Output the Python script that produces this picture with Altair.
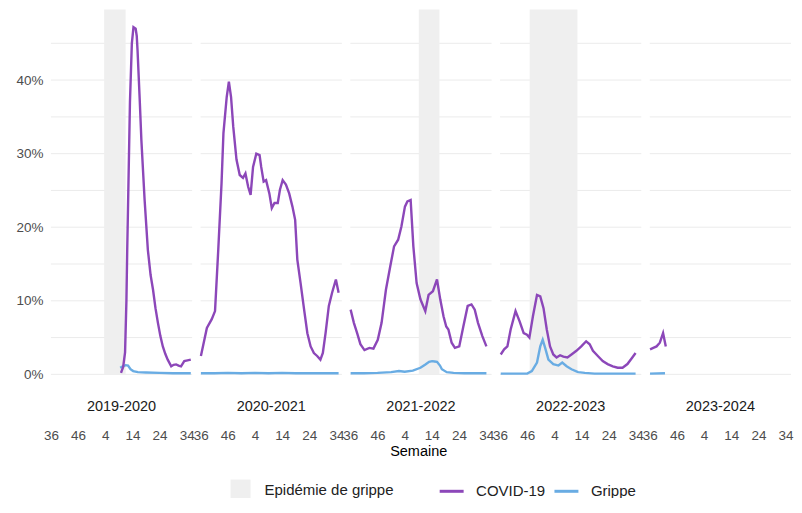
import altair as alt
import pandas as pd

seasons = ["2019-2020", "2020-2021", "2021-2022", "2022-2023", "2023-2024"]

# week index inside a season: 0 = week 36, 16 = week 52, 17 = week 1, 50 = week 34
tick_idx = [0, 10, 20, 30, 40, 50]
grid_vals = [0, 0.05, 0.1, 0.15, 0.2, 0.25, 0.3, 0.35, 0.4, 0.45]
y_label_vals = [0, 0.1, 0.2, 0.3, 0.4]

covid_idx = {
    "2019-2020": [25.8, 26.6, 27.3, 27.8, 28.1, 28.6, 29.1, 29.8, 30.4, 31.2, 31.6, 31.9, 32.7, 33.3, 34.5, 35.7, 36.7,
                  37.6, 38.5, 39.4, 40.3, 41.2, 42.1, 43.0, 44.3, 45.2, 46.1, 47.0, 47.9, 49.1, 50.3, 51.5],
    "2020-2021": [0.1, 2.3, 4.1, 5.3, 6.5, 7.7, 8.4, 9.6, 10.4, 11.2, 12.0, 13.2, 14.4, 15.6, 16.5, 17.5, 18.4, 19.3,
                  20.5, 21.7, 22.3, 23.2, 24.1, 25.3, 26.2, 27.2, 28.4, 29.2, 30.2, 31.4, 32.6, 33.8, 34.8, 35.6, 36.8,
                  38.1, 39.3, 40.5, 41.7, 42.9, 44.1, 45.0, 46.0, 47.2, 48.4, 49.8, 50.8],
    "2021-2022": [0.1, 1.3, 2.5, 3.7, 5.2, 7.0, 8.5, 10.1, 11.5, 13.1, 14.7, 16.1, 17.6, 18.8, 20.1, 21.0, 22.2, 23.2,
                  24.4, 25.8, 27.6, 28.8, 30.4, 31.9, 33.1, 34.3, 35.3, 36.1, 37.3, 38.5, 40.1, 41.6, 43.2, 44.6, 45.8,
                  47.0, 48.6, 50.1],
    "2022-2023": [0.25, 1.5, 2.7, 3.9, 5.7, 7.2, 8.7, 9.9, 10.8, 12.1, 13.6, 14.8, 16.0, 17.2, 18.4, 19.6, 20.8, 22.1,
                  23.3, 24.8, 26.3, 28.1, 29.9, 31.7, 33.0, 34.2, 36.0, 37.8, 39.6, 41.5, 43.3, 45.1, 46.9, 48.7, 49.9],
    "2023-2024": [0.1, 1.3, 2.5, 3.7, 4.9, 5.9],
}
covid_pct = {
    "2019-2020": [0.2, 1.0, 3.0, 10.0, 17.0, 27.0, 37.0, 45.0, 47.2, 47.0, 46.0, 44.0, 37.3, 31.9, 23.7, 16.9, 13.5,
                  11.5, 9.0, 7.0, 5.2, 3.8, 2.8, 2.0, 1.1, 1.3, 1.35, 1.2, 1.1, 1.8, 1.9, 2.0],
    "2020-2021": [2.5, 6.3, 7.5, 8.6, 17.0, 26.0, 32.8, 37.7, 39.8, 37.7, 33.7, 29.2, 27.1, 26.7, 27.3, 25.5, 24.4, 28.2,
                  30.0, 29.8, 28.2, 26.2, 26.4, 24.6, 22.6, 23.3, 23.3, 25.1, 26.4, 25.8, 24.6, 22.8, 21.0, 15.6, 12.4,
                  8.8, 5.6, 3.8, 2.9, 2.5, 2.0, 2.9, 5.6, 9.3, 11.1, 12.9, 11.1],
    "2021-2022": [8.8, 7.0, 5.6, 4.1, 3.3, 3.6, 3.5, 4.7, 7.0, 11.5, 14.7, 17.4, 18.3, 20.1, 22.8, 23.5, 23.7, 17.4,
                  12.4, 10.2, 8.6, 10.8, 11.3, 12.9, 10.2, 7.9, 6.5, 6.1, 4.3, 3.6, 3.8, 6.5, 9.3, 9.5, 8.8, 7.0, 5.2,
                  3.8],
    "2022-2023": [2.7, 3.4, 3.8, 6.1, 8.6, 7.2, 5.6, 5.4, 5.0, 7.9, 10.8, 10.6, 9.0, 6.1, 3.8, 2.7, 2.3, 2.6, 2.4, 2.3,
                  2.7, 3.2, 3.8, 4.5, 4.1, 3.2, 2.5, 1.8, 1.4, 1.1, 0.9, 0.9, 1.4, 2.3, 2.9],
    "2023-2024": [3.4, 3.6, 3.8, 4.3, 5.6, 3.8],
}

flu_idx = {
    "2019-2020": [25.5, 26.5, 27.5, 28.4, 29.3, 30.3, 32.0, 35.0, 40.0, 45.0, 51.5],
    "2020-2021": [0.1, 5.0, 10.0, 15.0, 20.0, 25.0, 30.0, 35.0, 40.0, 45.0, 50.8],
    "2021-2022": [0.1, 5.0, 10.0, 15.0, 17.9, 20.0, 23.0, 25.8, 27.5, 29.0, 30.1, 31.0, 31.9, 33.0, 33.7, 35.5, 38.0,
                  42.0, 46.0, 50.1],
    "2022-2023": [0.25, 5.0, 10.0, 11.7, 13.6, 14.8, 15.7, 16.6, 17.8, 19.6, 21.5, 22.9, 24.5, 26.3, 28.7, 31.2, 34.8,
                  40.0, 45.0, 49.9],
    "2023-2024": [0.1, 5.6],
}
flu_pct = {
    "2019-2020": [0.9, 1.1, 1.25, 1.2, 0.7, 0.45, 0.3, 0.25, 0.2, 0.15, 0.15],
    "2020-2021": [0.15, 0.15, 0.2, 0.15, 0.2, 0.15, 0.2, 0.15, 0.15, 0.15, 0.15],
    "2021-2022": [0.15, 0.15, 0.2, 0.3, 0.45, 0.35, 0.5, 0.9, 1.3, 1.7, 1.8, 1.75, 1.7, 1.2, 0.7, 0.3, 0.2, 0.15,
                  0.15, 0.15],
    "2022-2023": [0.1, 0.1, 0.1, 0.45, 1.6, 3.8, 4.7, 3.6, 2.0, 1.4, 1.2, 1.6, 1.1, 0.7, 0.3, 0.2, 0.1, 0.1, 0.1, 0.1],
    "2023-2024": [0.1, 0.15],
}

epi_season = ["2019-2020", "2021-2022", "2022-2023"]
epi_start = [19.6, 25.2, 10.9]
epi_end = [27.5, 32.8, 28.5]

# ---- layout constants (panels side by side on one continuous axis) ----
PW, GAP, U = 141.5, 8.5, 52      # panel width px, gap px, weeks per panel
S = U + GAP * U / PW             # panel step in axis units
XMAX = 4 * S + U
H = 383
YMIN, YMAX = -0.0236, 0.496
offset = {s: i * S for i, s in enumerate(seasons)}

rows = []
for s in seasons:
    o = offset[s]
    for g in grid_vals:
        rows.append({"kind": "grid", "season": s, "x0": o, "x1": o + U, "val": g})
    for i, v in zip(flu_idx[s], flu_pct[s]):
        rows.append({"kind": "line", "season": s, "series": "Grippe", "x": o + i, "val": v / 100})
    for i, v in zip(covid_idx[s], covid_pct[s]):
        rows.append({"kind": "line", "season": s, "series": "COVID-19", "x": o + i, "val": v / 100})
    rows.append({"kind": "label", "season": s, "x": o + U / 2})
for s, a, b in zip(epi_season, epi_start, epi_end):
    rows.append({"kind": "rect", "season": s, "x0": offset[s] + a, "x1": offset[s] + b,
                 "lab": "Epidémie de grippe"})
df = pd.DataFrame(rows)

tick_vals = [round(offset[s] + t, 4) for s in seasons for t in tick_idx]
loc = f"(datum.value - floor(datum.value / {S} + 0.01) * {S})"
label_expr = f"{loc} < 16.5 ? round({loc}) + 36 : round({loc}) - 16"

x_scale = alt.Scale(domain=[0, XMAX], nice=False, zero=False)
y_scale = alt.Scale(domain=[YMIN, YMAX], nice=False, zero=False)

x_axis = alt.Axis(values=tick_vals, labelExpr=label_expr, grid=False, domain=False, ticks=False,
                  labelPadding=37, labelFlush=False, labelOverlap=False, labelFontSize=13.5,
                  labelColor="#4d4d4d", title="Semaine", titleFontSize=14.5, titleFontWeight="normal",
                  titleColor="#000000", titleX=368, titleY=60, titleBaseline="middle", titleAlign="center")
y_axis = alt.Axis(values=y_label_vals, format=".0%", grid=False, domain=False, ticks=False,
                  labelPadding=8, labelFontSize=13.5, labelColor="#4d4d4d", title=None)

base = alt.Chart(df)

grid = base.transform_filter("datum.kind == 'grid'").mark_rule(color="#ebebeb", strokeWidth=1).encode(
    x=alt.X("x0:Q", scale=x_scale, axis=x_axis),
    x2="x1:Q",
    y=alt.Y("val:Q", scale=y_scale, axis=y_axis),
)

rect = base.transform_filter("datum.kind == 'rect'").transform_calculate(
    y0="0", y1=str(YMAX)
).mark_rect().encode(
    x=alt.X("x0:Q", scale=x_scale, axis=x_axis),
    x2="x1:Q",
    y=alt.Y("y1:Q", scale=y_scale, axis=y_axis),
    y2="y0:Q",
    fill=alt.Fill("lab:N", scale=alt.Scale(domain=["Epidémie de grippe"], range=["#efefef"]),
                  legend=alt.Legend(title=None, orient="none", legendX=180, legendY=471, symbolType="square",
                                    symbolSize=400, symbolStrokeWidth=0, labelFontSize=15, labelColor="#222222",
                                    labelOffset=14)),
)

lines = base.transform_filter("datum.kind == 'line'").mark_line(strokeWidth=2.4).encode(
    x=alt.X("x:Q", scale=x_scale, axis=x_axis),
    y=alt.Y("val:Q", scale=y_scale, axis=y_axis),
    detail="season:N",
    color=alt.Color("series:N", scale=alt.Scale(domain=["COVID-19", "Grippe"], range=["#8c47b9", "#69ace3"]),
                    legend=alt.Legend(title=None, orient="none", direction="horizontal", legendX=388, legendY=469,
                                      symbolType="stroke", symbolSize=576, symbolStrokeWidth=3,
                                      labelFontSize=15, labelColor="#222222", labelOffset=11, columnPadding=2)),
)

labels = base.transform_filter("datum.kind == 'label'").mark_text(fontSize=14.5, color="#1a1a1a").encode(
    x=alt.X("x:Q", scale=x_scale, axis=x_axis),
    y=alt.value(398),
    text="season:N",
)

chart = alt.layer(grid, rect, lines, labels).properties(
    width=PW * 5 + GAP * 4,
    height=H,
    padding={"left": 7, "top": 1, "right": 0, "bottom": -2},
).configure(
    font="Liberation Sans"
).configure_view(
    strokeWidth=0
)

chart.save("out.html", embed_options={"renderer": "svg", "actions": False})
